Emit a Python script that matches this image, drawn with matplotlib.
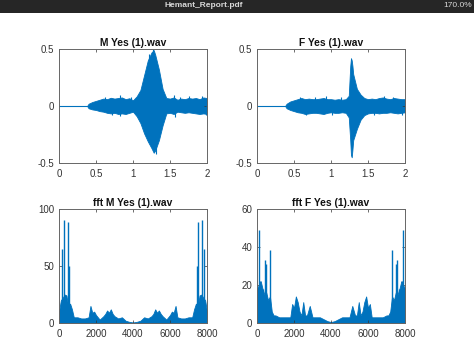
import matplotlib
matplotlib.use("Agg")
import matplotlib.pyplot as plt

plt.rcParams['font.family'] = ['Liberation Sans', 'DejaVu Sans']

# waveform envelopes (seconds, amplitude)
m_t = [0, 0.38, 0.40, 0.45, 0.50, 0.55, 0.60, 0.65, 0.70, 0.75, 0.80, 0.85, 0.90, 0.95,
       1.00, 1.05, 1.10, 1.15, 1.20, 1.25, 1.28, 1.30, 1.35, 1.40, 1.45, 1.50, 1.55,
       1.60, 1.65, 1.70, 1.75, 1.80, 1.85, 1.90, 1.95, 2.00]
m_upper = [0, 0, 0.02, 0.035, 0.045, 0.055, 0.065, 0.06, 0.072, 0.065, 0.07, 0.075, 0.06, 0.068,
           0.05, 0.085, 0.14, 0.27, 0.40, 0.47, 0.49, 0.45, 0.32, 0.15, 0.07, 0.065, 0.075,
           0.055, 0.065, 0.06, 0.07, 0.065, 0.07, 0.06, 0.075, 0.07]
m_lower = [0, 0, -0.02, -0.03, -0.035, -0.045, -0.05, -0.06, -0.065, -0.06, -0.07, -0.065, -0.07, -0.06,
           -0.05, -0.09, -0.15, -0.24, -0.31, -0.37, -0.41, -0.39, -0.30, -0.17, -0.065, -0.06, -0.07,
           -0.05, -0.055, -0.06, -0.055, -0.06, -0.065, -0.07, -0.065, -0.07]
m_spike_t = [0.62, 0.71, 0.82, 0.83, 0.97, 1.08, 1.22, 1.27, 1.31, 1.55, 1.57, 1.64, 1.76, 1.93, 1.98]
m_spike_v = [0.08, -0.075, 0.10, -0.09, 0.075, -0.10, 0.46, 0.50, -0.42, 0.10, -0.10, 0.08, 0.085, 0.09, -0.08]

f_t = [0, 0.38, 0.40, 0.45, 0.50, 0.55, 0.60, 0.65, 0.70, 0.75, 0.80, 0.85, 0.90, 0.95,
       1.00, 1.05, 1.10, 1.15, 1.20, 1.24, 1.26, 1.27, 1.28, 1.29, 1.30, 1.35, 1.40, 1.45,
       1.50, 1.55, 1.60, 1.65, 1.70, 1.75, 1.80, 1.85, 1.90, 1.95, 2.00]
f_upper = [0, 0, 0.02, 0.04, 0.05, 0.06, 0.07, 0.06, 0.065, 0.06, 0.06, 0.065, 0.07, 0.06,
           0.06, 0.055, 0.06, 0.055, 0.06, 0.09, 0.35, 0.42, 0.40, 0.35, 0.28, 0.15, 0.10, 0.07,
           0.06, 0.065, 0.06, 0.07, 0.075, 0.065, 0.06, 0.07, 0.065, 0.06, 0.06]
f_lower = [0, 0, -0.02, -0.035, -0.045, -0.055, -0.06, -0.07, -0.065, -0.06, -0.06, -0.065, -0.07, -0.06,
           -0.055, -0.06, -0.06, -0.055, -0.06, -0.10, -0.30, -0.43, -0.45, -0.38, -0.30, -0.20, -0.12, -0.08,
           -0.065, -0.06, -0.06, -0.065, -0.06, -0.06, -0.055, -0.06, -0.065, -0.06, -0.055]
f_spike_t = [0.58, 0.66, 0.78, 0.93, 1.02, 1.13, 1.58, 1.71, 1.84, 1.96]
f_spike_v = [0.08, -0.08, 0.075, 0.09, -0.075, 0.075, -0.08, 0.085, 0.08, -0.075]

# fft magnitude: dense base envelope + narrow peaks (Hz, magnitude)
m_fft_f = [0, 100, 200, 300, 400, 500, 600, 700, 800, 1000, 1200, 1400, 1600, 1700, 1800, 1900,
           2000, 2200, 2400, 2500, 2600, 2700, 2800, 2900, 3000, 3200, 3400, 3600, 3800, 4000,
           4200, 4400, 4600, 4800, 5000, 5100, 5200, 5300, 5400, 5500, 5600, 5800, 6000, 6100,
           6200, 6300, 6400, 6600, 6800, 7000, 7200, 7300, 7400, 7500, 7600, 7700, 7800, 7900, 8000]
m_fft_base = [10, 20, 22, 25, 24, 15, 17, 12, 5, 5, 4, 4, 5, 15, 9, 10,
              7, 3, 6, 8, 11, 9, 12, 8, 6, 4, 5, 2, 1, 0.5,
              1, 2, 5, 4, 6, 8, 12, 9, 11, 8, 6, 3, 7, 10,
              9, 15, 5, 4, 4, 5, 5, 12, 17, 15, 24, 25, 22, 20, 10]
m_peak_f = [180, 270, 360, 500, 520, 7480, 7500, 7640, 7730, 7820]
m_peak_v = [65, 90, 25, 89, 50, 50, 89, 25, 90, 65]

f_fft_f = [0, 100, 200, 300, 400, 500, 600, 700, 800, 900, 1000, 1200, 1400, 1600, 1800, 1900,
           2000, 2100, 2200, 2300, 2400, 2500, 2600, 2700, 2850, 3000, 3200, 3400, 3600, 3800, 4000,
           4200, 4400, 4600, 4800, 5000, 5150, 5300, 5400, 5500, 5600, 5700, 5800, 5900, 6000,
           6100, 6200, 6400, 6600, 6800, 7000, 7100, 7200, 7300, 7400, 7500, 7600, 7700, 7800, 7900, 8000]
f_fft_base = [18, 20, 22, 18, 15, 16, 12, 14, 6, 4, 4, 3, 3, 3, 3, 10,
              8, 14, 11, 6, 4, 11, 4, 4, 9, 3, 3, 3, 2, 1, 0.5,
              1, 2, 3, 3, 3, 9, 4, 4, 11, 4, 6, 11, 14, 8,
              10, 3, 3, 3, 3, 4, 4, 6, 14, 12, 16, 15, 18, 22, 20, 18]
f_peak_f = [110, 180, 325, 450, 505, 690, 7310, 7495, 7550, 7675, 7820, 7890]
f_peak_v = [49, 22, 18, 33, 31, 38.5, 38.5, 31, 33, 18, 22, 49]

titles = ['M Yes (1).wav', 'F Yes (1).wav', 'fft M Yes (1).wav', 'fft F Yes (1).wav']
BLUE = '#0072BD'
W, H = 474, 355

fig = plt.figure(figsize=(W / 100, H / 100), dpi=100)
fig.patch.set_facecolor('white')

# dark viewer bar on top
bar = fig.add_axes([0, 1 - 13 / H, 1, 13 / H])
bar.set_facecolor('#262626')
bar.set_xticks([]); bar.set_yticks([])
for s in bar.spines.values():
    s.set_visible(False)
fig.text(204 / W, 1 - 5.5 / H, 'Hemant_Report.pdf', ha='center', va='center',
         color='#d8d8d8', fontsize=6, fontweight='bold')
fig.text(458 / W, 1 - 5.5 / H, '170.0%', ha='center', va='center',
         color='#d8d8d8', fontsize=6)


def make_ax(left_px, top_px):
    ax = fig.add_axes([left_px / W, 1 - (top_px + 114) / H, 148 / W, 114 / H])
    ax.tick_params(direction='in', length=2.5, width=0.5, labelsize=7, colors='#333333',
                   top=True, right=True, pad=3.5)
    ax.tick_params(axis='x', pad=4.5)
    for s in ax.spines.values():
        s.set_color('#666666')
        s.set_linewidth(0.7)
    return ax


ax1 = make_ax(59, 49)
ax2 = make_ax(257, 49)
ax3 = make_ax(59, 209)
ax4 = make_ax(257, 209)

for ax, t, up, lo, st, sv in [(ax1, m_t, m_upper, m_lower, m_spike_t, m_spike_v),
                              (ax2, f_t, f_upper, f_lower, f_spike_t, f_spike_v)]:
    ax.plot([0, 0.4], [0, 0], color=BLUE, lw=0.8)
    ax.fill_between(t, lo, up, color=BLUE, lw=0.6, edgecolor=BLUE)
    ax.vlines(st, 0, sv, color=BLUE, lw=0.8)
    ax.set_xlim(0, 2)
    ax.set_ylim(-0.5, 0.5)
    ax.set_xticks([0, 0.5, 1, 1.5, 2])
    ax.set_xticklabels(['0', '0.5', '1', '1.5', '2'])
    ax.set_yticks([-0.5, 0, 0.5])
    ax.set_yticklabels(['-0.5', '0', '0.5'])

for ax, f, base, pf, pv, ymax, yt in [(ax3, m_fft_f, m_fft_base, m_peak_f, m_peak_v, 100, [0, 50, 100]),
                                      (ax4, f_fft_f, f_fft_base, f_peak_f, f_peak_v, 60, [0, 20, 40, 60])]:
    ax.fill_between(f, 0, base, color=BLUE, lw=0.6, edgecolor=BLUE)
    ax.vlines(pf, 0, pv, color=BLUE, lw=1.0)
    ax.set_xlim(0, 8000)
    ax.set_ylim(0, ymax)
    ax.set_xticks([0, 2000, 4000, 6000, 8000])
    ax.set_yticks(yt)

for ax, title in zip([ax1, ax2, ax3, ax4], titles):
    ax.set_title(title, fontsize=7.4, fontweight='bold', color='#111111', pad=2.5)

fig.savefig('out.png', dpi=100)
